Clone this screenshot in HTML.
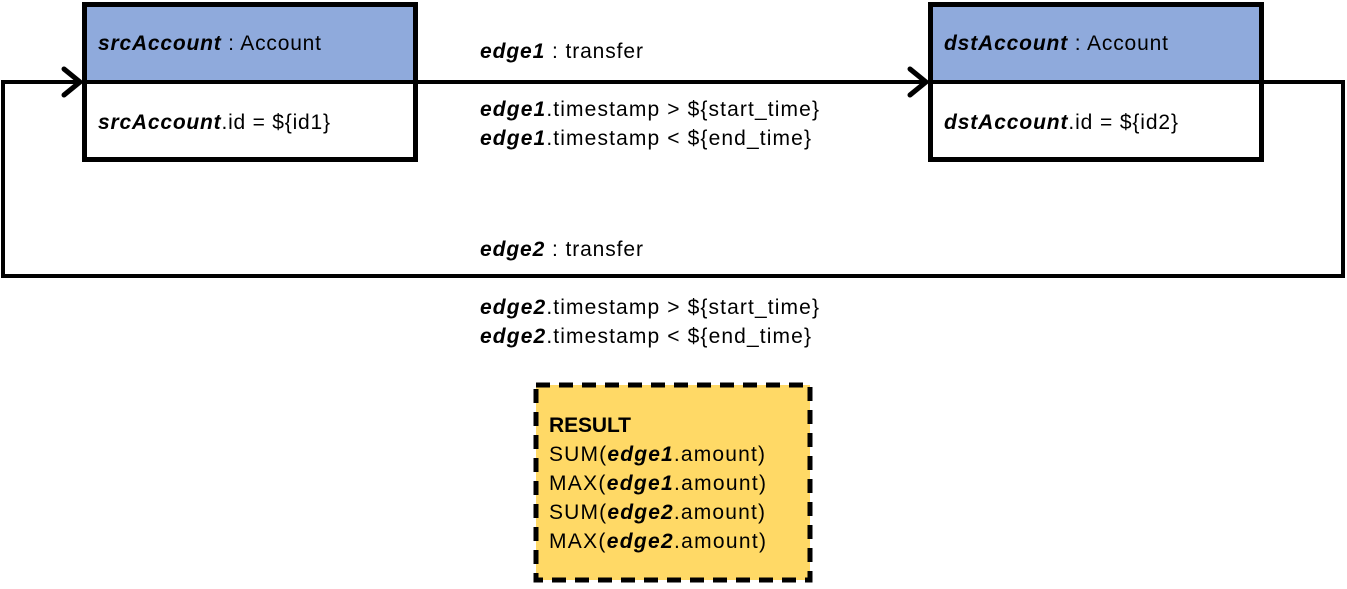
<!DOCTYPE html>
<html><head><meta charset="utf-8"><style>
html,body{margin:0;padding:0;background:#fff;}
svg text{font-family:"Liberation Sans",sans-serif;font-size:21px;fill:#000;}
.b{font-weight:bold;font-style:italic;}
</style></head><body>
<svg width="1347" height="584" viewBox="0 0 1347 584" xmlns="http://www.w3.org/2000/svg">
<rect x="84.5" y="4.5" width="331" height="78" fill="#8FAADC"/>
<rect x="84.5" y="4.5" width="331" height="155" fill="none" stroke="#000" stroke-width="5"/>
<rect x="930.5" y="4.5" width="331" height="78" fill="#8FAADC"/>
<rect x="930.5" y="4.5" width="331" height="155" fill="none" stroke="#000" stroke-width="5"/>
<line x1="84" y1="82" x2="416" y2="82" stroke="#000" stroke-width="4"/>
<line x1="930" y1="82" x2="1262" y2="82" stroke="#000" stroke-width="4"/>
<line x1="416" y1="82" x2="926" y2="82" stroke="#000" stroke-width="4"/>
<polyline points="910,69 926,82 910,95" fill="none" stroke="#000" stroke-width="5" stroke-linecap="round"/>
<polyline points="1262,82 1343,82 1343,276 3,276 3,82 80,82" fill="none" stroke="#000" stroke-width="4"/>
<polyline points="64,69 80,82 64,95" fill="none" stroke="#000" stroke-width="5" stroke-linecap="round"/>
<text x="98" y="50" textLength="223" lengthAdjust="spacing"><tspan class="b">srcAccount</tspan> : Account</text>
<text x="98" y="129" textLength="232" lengthAdjust="spacing"><tspan class="b">srcAccount</tspan>.id = ${id1}</text>
<text x="944" y="50" textLength="224" lengthAdjust="spacing"><tspan class="b">dstAccount</tspan> : Account</text>
<text x="944" y="129" textLength="234" lengthAdjust="spacing"><tspan class="b">dstAccount</tspan>.id = ${id2}</text>
<text x="480" y="58" textLength="163" lengthAdjust="spacing"><tspan class="b">edge1</tspan> : transfer</text>
<text x="480" y="116" textLength="339" lengthAdjust="spacing"><tspan class="b">edge1</tspan>.timestamp &gt; ${start_time}</text>
<text x="480" y="145" textLength="331" lengthAdjust="spacing"><tspan class="b">edge1</tspan>.timestamp &lt; ${end_time}</text>
<text x="480" y="256" textLength="163" lengthAdjust="spacing"><tspan class="b">edge2</tspan> : transfer</text>
<text x="480" y="314" textLength="339" lengthAdjust="spacing"><tspan class="b">edge2</tspan>.timestamp &gt; ${start_time}</text>
<text x="480" y="343" textLength="331" lengthAdjust="spacing"><tspan class="b">edge2</tspan>.timestamp &lt; ${end_time}</text>
<rect x="536" y="385" width="274" height="195" fill="#FFD966" stroke="#000" stroke-width="5" stroke-dasharray="14,9"/>
<text x="549" y="432" font-weight="bold" textLength="82" lengthAdjust="spacing">RESULT</text>
<text x="549" y="461" textLength="216" lengthAdjust="spacing">SUM(<tspan class="b">edge1</tspan>.amount)</text>
<text x="549" y="490" textLength="217" lengthAdjust="spacing">MAX(<tspan class="b">edge1</tspan>.amount)</text>
<text x="549" y="519" textLength="216" lengthAdjust="spacing">SUM(<tspan class="b">edge2</tspan>.amount)</text>
<text x="549" y="548" textLength="217" lengthAdjust="spacing">MAX(<tspan class="b">edge2</tspan>.amount)</text>
</svg>
</body></html>
